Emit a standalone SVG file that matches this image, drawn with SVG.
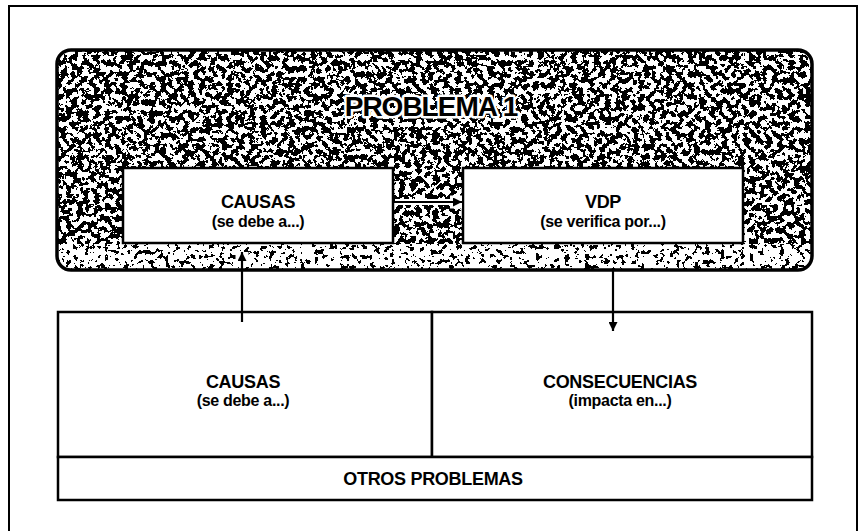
<svg xmlns="http://www.w3.org/2000/svg" width="864" height="531" viewBox="0 0 864 531">
<style>
.box{fill:#fff;stroke:#000;stroke-width:2.5}
.thin{fill:none;stroke:#000;stroke-width:2}
.t{font-family:"Liberation Sans",Arial,sans-serif;font-weight:bold;fill:#000;text-anchor:middle}
.h{font-size:18px;letter-spacing:-0.3px}
.p{font-size:16px;letter-spacing:-0.3px}
.big{font-size:28px;letter-spacing:-1px;stroke:#fff;stroke-width:5;paint-order:stroke;stroke-linejoin:round}
.conn{stroke:#000;stroke-width:2.2;fill:none}
.halo{stroke:#fff;stroke-width:6;fill:none}
</style>
<defs>
<clipPath id="clipShade"><rect x="57" y="50" width="755" height="220" rx="14"/></clipPath>
<filter id="speckle" x="0" y="0" width="100%" height="100%" filterUnits="objectBoundingBox">
<feTurbulence type="fractalNoise" baseFrequency="0.18" numOctaves="3" seed="7" result="n"/>
<feColorMatrix in="n" type="matrix" values="0 0 0 0 0  0 0 0 0 0  0 0 0 0 0  1 0 0 0 0" result="a"/>
<feComponentTransfer in="a"><feFuncA type="discrete" tableValues="0 1"/></feComponentTransfer>
</filter>
<filter id="speckleLight" x="0" y="0" width="100%" height="100%" filterUnits="objectBoundingBox">
<feTurbulence type="fractalNoise" baseFrequency="0.2" numOctaves="3" seed="11" result="n"/>
<feColorMatrix in="n" type="matrix" values="0 0 0 0 0  0 0 0 0 0  0 0 0 0 0  1 0 0 0 0" result="a"/>
<feComponentTransfer in="a"><feFuncA type="discrete" tableValues="0 0 0 1 1"/></feComponentTransfer>
</filter>
<marker id="ah" viewBox="0 0 10 10" refX="10" refY="5" markerWidth="9" markerHeight="9" markerUnits="userSpaceOnUse" orient="auto">
<path d="M0,0 L10,5 L0,10 z" fill="#000"/>
</marker>
</defs>
<rect width="864" height="531" fill="#fff"/>
<g id="frame"><rect class="thin" x="9" y="6" width="848" height="540"/></g>
<g id="problema1">
<g clip-path="url(#clipShade)">
<rect x="57" y="50" width="755" height="220" fill="#fff"/>
<rect x="57" y="50" width="755" height="194" fill="#000" filter="url(#speckle)"/>
<rect x="57" y="244" width="755" height="26" fill="#000" filter="url(#speckleLight)"/>
</g>
<rect x="57" y="50" width="755" height="220" rx="14" fill="none" stroke="#000" stroke-width="3.5"/>
<text class="t big" x="431" y="116">PROBLEMA 1</text>
</g>
<g id="causas-inner">
<rect class="box" x="123" y="168" width="270" height="75"/>
<text class="t h" x="258" y="208">CAUSAS</text>
<text class="t p" x="258" y="227">(se debe a...)</text>
</g>
<g id="vdp">
<rect class="box" x="463" y="168" width="280" height="75"/>
<text class="t h" x="603" y="208">VDP</text>
<text class="t p" x="603" y="227">(se verifica por...)</text>
</g>
<g id="causas-lower">
<rect class="box" x="58" y="312" width="374" height="145"/>
<text class="t h" x="243" y="388">CAUSAS</text>
<text class="t p" x="243" y="406">(se debe a...)</text>
</g>
<g id="consecuencias">
<rect class="box" x="432" y="312" width="380" height="145"/>
<text class="t h" x="620" y="388">CONSECUENCIAS</text>
<text class="t p" x="620" y="406">(impacta en...)</text>
</g>
<g id="otros">
<rect class="box" x="58" y="457" width="754" height="43"/>
<text class="t h" x="433" y="485">OTROS PROBLEMAS</text>
</g>
<g id="connectors">
<line class="halo" x1="395" y1="202" x2="450" y2="202"/>
<line stroke="#fff" stroke-width="13" x1="450" y1="202" x2="462" y2="202"/>
<line class="halo" x1="242" y1="262" x2="242" y2="268"/>
<line stroke="#fff" stroke-width="13" x1="242" y1="252" x2="242" y2="264"/>
<line class="conn" x1="394" y1="202" x2="462" y2="202" marker-end="url(#ah)"/>
<line class="conn" x1="242" y1="322" x2="242" y2="252" marker-end="url(#ah)"/>
<line class="conn" x1="613" y1="268" x2="613" y2="331" marker-end="url(#ah)"/>
</g>
</svg>
